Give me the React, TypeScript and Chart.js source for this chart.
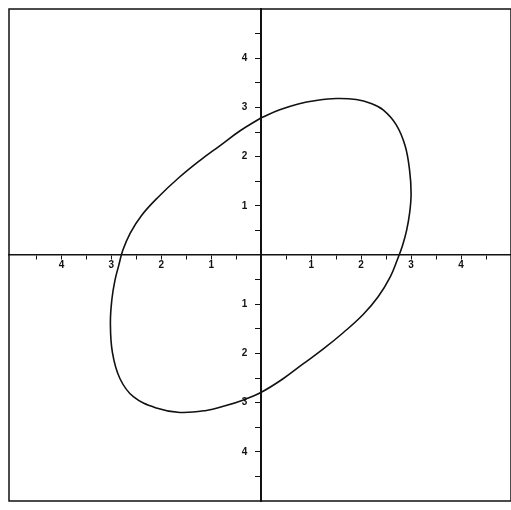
import React, { useEffect, useRef } from "react";
import { Chart, registerables } from "chart.js";

Chart.register(...registerables);

// Closed trajectory in the (x, y) phase plane, traced clockwise from the top y-axis crossing.
const loopX = [
  0, 0.37, 0.74, 1.1, 1.5, 1.9, 2.2, 2.44, 2.7, 2.88, 2.97, 3.0, 2.97, 2.91, 2.83, 2.73, 2.58, 2.34, 2.04, 1.64, 1.23, 0.83, 0.43,
  0, -0.37, -0.74, -1.1, -1.63, -2.1, -2.56, -2.83, -2.98, -3.02, -2.99, -2.93, -2.85, -2.77, -2.62, -2.4, -2.06, -1.64, -1.23, -0.83, -0.43,
  0,
];
const loopY = [
  2.79, 2.95, 3.07, 3.14, 3.18, 3.16, 3.08, 2.95, 2.65, 2.22, 1.72, 1.25, 0.85, 0.5, 0.2, -0.08, -0.45, -0.85, -1.21, -1.58, -1.92, -2.22, -2.52,
  -2.79, -2.95, -3.07, -3.16, -3.2, -3.11, -2.88, -2.51, -1.98, -1.38, -0.9, -0.52, -0.2, 0.1, 0.45, 0.8, 1.18, 1.58, 1.92, 2.22, 2.52,
  2.79,
];

// Axis ranges and tick positions (labels show magnitudes only).
const xRange = [-5.05, 5];
const yRange = [-5, 5];
const tickValues = [-4.5, -4, -3.5, -3, -2.5, -2, -1.5, -1, -0.5, 0.5, 1, 1.5, 2, 2.5, 3, 3.5, 4, 4.5];

const tickLabel = (v: number) => (Number.isInteger(v) && v !== 0 ? String(Math.abs(v)) : "");

const frame = {
  id: "frame",
  beforeDraw(chart: any) {
    const { ctx, chartArea } = chart;
    ctx.save();
    ctx.strokeStyle = "#111";
    ctx.lineWidth = 1.5;
    ctx.strokeRect(chartArea.left, chartArea.top, chartArea.right - chartArea.left, chartArea.bottom - chartArea.top);
    ctx.restore();
  },
};

export default function App() {
  const ref = useRef<HTMLCanvasElement>(null);

  useEffect(() => {
    document.body.style.margin = "0";
    const points = loopX.map((x, i) => ({ x, y: loopY[i] }));
    const font = { family: "Liberation Sans", size: 10, weight: "bold" as const };
    const chart = new Chart(ref.current!, {
      type: "scatter",
      data: {
        datasets: [
          {
            data: points,
            showLine: true,
            borderColor: "#111",
            borderWidth: 1.6,
            pointRadius: 0,
            tension: 0.4,
            fill: false,
          },
        ],
      },
      options: {
        animation: false,
        responsive: false,
        layout: { padding: { left: 9, top: 7, right: 0, bottom: 3 } },
        plugins: { legend: { display: false }, tooltip: { enabled: false } },
        scales: {
          x: {
            type: "linear",
            min: xRange[0],
            max: xRange[1],
            position: { y: 0 } as any,
            afterBuildTicks: (s: any) => {
              s.ticks = tickValues.map((value) => ({ value }));
            },
            ticks: { callback: (v: any) => tickLabel(Number(v)), color: "#111", font, padding: 0, autoSkip: false, maxRotation: 0 },
            grid: { drawOnChartArea: false, drawTicks: true, tickLength: 4, color: "#111", lineWidth: 1 },
            border: { color: "#111", width: 1.5 },
          },
          y: {
            type: "linear",
            min: yRange[0],
            max: yRange[1],
            position: { x: 0 } as any,
            afterBuildTicks: (s: any) => {
              s.ticks = tickValues.map((value) => ({ value }));
            },
            // labels sit to the left of the central axis, clear of the tick marks
            ticks: {
              callback: (v: any) => {
                const t = tickLabel(Number(v));
                return t ? t + "\u00a0\u00a0\u00a0\u00a0\u00a0" : "";
              },
              color: "#111",
              font,
              padding: 3,
              autoSkip: false,
            },
            grid: { drawOnChartArea: false, drawTicks: true, tickLength: 5, color: "#111", lineWidth: 1 },
            border: { color: "#111", width: 2 },
          },
        },
      },
      plugins: [frame],
    });
    return () => chart.destroy();
  }, []);

  return (
    <div style={{ position: "fixed", left: 0, top: 0, width: 511, height: 510, background: "#fff" }}>
      <canvas ref={ref} width={511} height={510} />
    </div>
  );
}
